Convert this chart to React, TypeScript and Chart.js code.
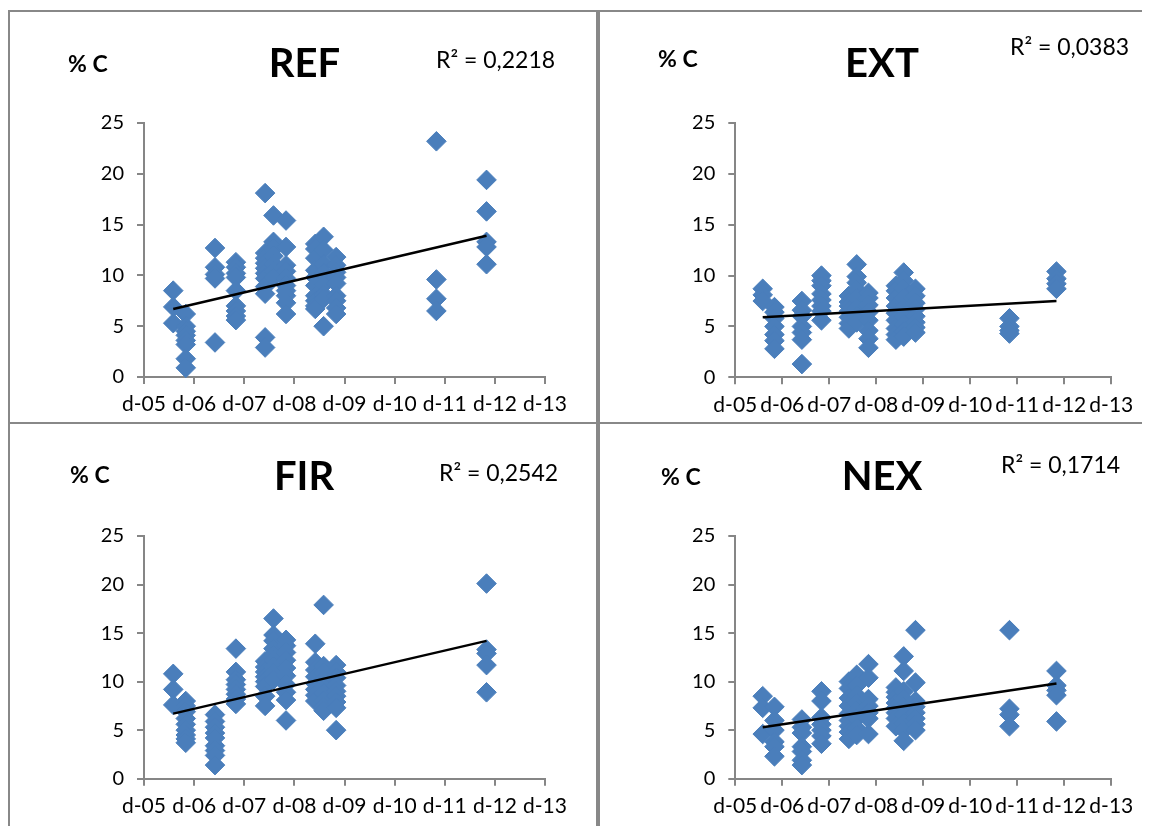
import React, { useEffect, useRef } from "react";
import { Chart, registerables } from "chart.js";

Chart.register(...registerables);

// Sampling dates, in months after December 2005
const SAMPLE_MONTHS = [7, 10, 17, 22, 29, 31, 34, 41, 43, 46, 70, 82];
const X_TICK_LABELS = ["d-05", "d-06", "d-07", "d-08", "d-09", "d-10", "d-11", "d-12", "d-13"];
const X_MIN = 0;
const X_MAX = 96;
const X_STEP = 12;
const Y_MIN = 0;
const Y_MAX = 25;
const Y_STEP = 5;

// % C values per sampling date (same order as SAMPLE_MONTHS)
const REF_C = [
  [8.5, 6.9, 5.3],
  [6.2, 5.0, 4.5, 4.1, 3.6, 3.2, 1.8, 0.9],
  [12.7, 10.8, 10.1, 9.7, 3.4],
  [11.3, 10.8, 10.2, 9.8, 8.5, 7.0, 6.5, 6.0, 5.6],
  [18.1, 12.2, 11.7, 11.2, 10.7, 10.2, 9.7, 8.9, 8.2, 3.9, 2.9],
  [15.9, 13.3, 12.6, 11.9, 11.1, 10.4, 9.8],
  [15.4, 12.8, 11.0, 10.4, 9.7, 9.0, 8.5, 8.0, 7.3, 6.2],
  [13.1, 12.6, 11.7, 10.5, 9.8, 9.0, 8.0, 7.5, 7.0, 6.7],
  [13.8, 12.5, 11.1, 10.2, 9.1, 8.1, 7.7, 5.0],
  [11.8, 11.0, 10.3, 9.8, 9.2, 8.0, 7.5, 6.8, 6.2],
  [23.2, 9.6, 7.7, 6.5],
  [19.4, 16.3, 13.3, 12.8, 11.1],
];
const EXT_C = [
  [8.7, 8.1, 7.5],
  [6.9, 6.4, 5.8, 5.0, 4.2, 3.6, 2.8],
  [7.5, 6.6, 6.0, 5.0, 4.4, 3.7, 1.3],
  [10.0, 9.5, 9.0, 8.2, 7.6, 7.0, 6.5, 5.6],
  [8.0, 7.4, 7.0, 6.5, 5.9, 5.3, 4.8],
  [11.1, 9.9, 9.3, 8.6, 7.8, 6.8, 6.0, 5.4],
  [8.3, 7.8, 7.1, 6.4, 5.6, 4.6, 3.8, 2.9],
  [9.0, 8.5, 7.8, 7.0, 6.3, 5.6, 4.8, 4.2, 3.7],
  [10.3, 9.5, 8.7, 7.8, 6.8, 6.0, 5.2, 4.5, 4.0],
  [8.7, 8.0, 7.3, 6.7, 6.0, 5.4, 4.9, 4.4],
  [5.8, 5.0, 4.6, 4.3],
  [10.4, 9.7, 9.2, 8.7],
];
const FIR_C = [
  [10.8, 9.2, 7.6],
  [8.0, 7.5, 6.9, 6.2, 5.6, 5.0, 4.5, 4.1, 3.7],
  [6.6, 5.9, 5.3, 4.7, 4.2, 3.4, 2.9, 2.4, 1.4],
  [13.4, 11.0, 10.2, 9.7, 9.2, 8.7, 8.2, 7.7],
  [12.1, 11.5, 11.0, 10.5, 10.0, 9.5, 8.5, 7.5],
  [16.5, 14.8, 14.2, 13.4, 12.8, 12.2, 11.5, 10.9, 10.2],
  [14.3, 13.7, 13.0, 12.2, 11.4, 10.6, 9.7, 8.9, 8.1, 6.0],
  [13.9, 12.0, 11.2, 10.5, 9.8, 9.2, 8.6, 8.0],
  [17.9, 11.6, 10.9, 10.2, 9.5, 8.8, 8.0, 7.4, 7.0],
  [11.7, 11.0, 10.4, 9.6, 9.0, 8.5, 7.9, 7.3, 5.0],
  [],
  [20.1, 13.3, 12.9, 11.7, 8.9],
];
const NEX_C = [
  [8.5, 7.3, 4.6],
  [7.4, 6.0, 5.0, 3.8, 3.3, 2.3],
  [6.1, 5.3, 4.7, 3.3, 2.8, 1.9, 1.4],
  [9.0, 8.0, 6.3, 5.6, 5.0, 4.4, 3.6],
  [10.0, 9.3, 8.3, 7.5, 6.7, 6.0, 5.4, 4.8, 4.1],
  [10.7, 9.6, 8.6, 7.8, 7.0, 6.2, 5.2, 4.5],
  [11.8, 10.4, 8.2, 7.5, 6.8, 6.2, 4.6],
  [9.4, 8.9, 8.4, 7.8, 7.3, 6.8, 6.2, 5.4],
  [12.6, 11.1, 9.0, 8.2, 7.4, 6.6, 5.7, 5.0, 3.9],
  [15.3, 9.9, 8.0, 7.4, 6.8, 6.2, 5.6, 5.0],
  [15.3, 7.2, 6.6, 5.4],
  [11.1, 9.6, 9.1, 8.6, 5.9],
];

// Linear trendline values at first and last sampling date
const REF_TREND = [6.7, 13.9];
const EXT_TREND = [5.9, 7.5];
const FIR_TREND = [6.7, 14.2];
const NEX_TREND = [5.3, 9.8];

const R2_LABELS = ["0,2218", "0,0383", "0,2542", "0,1714"];
const PANEL_NAMES = ["REF", "EXT", "FIR", "NEX"];
const Y_AXIS_LABEL = "% C";

const FONT = 'Lato, "Open Sans", sans-serif';
const MARKER = "#4a7ebb";
const AXIS = "#868686";

type Layout = {
  box: { left: number; top: number; width: number; height: number };
  area: { l: number; t: number; r: number; b: number };
  title: { x: number; y: number };
  unit: { x: number; y: number };
  r2: { x: number; y: number };
};

const LAYOUTS: Layout[] = [
  {
    box: { left: 0, top: 2, width: 590, height: 414 },
    area: { l: 134, t: 111, r: 535, b: 365 },
    title: { x: 294.5, y: 64.7 },
    unit: { x: 58, y: 60 },
    r2: { x: 426, y: 56 },
  },
  {
    box: { left: 590, top: 2, width: 570, height: 414 },
    area: { l: 135.3, t: 111, r: 511.3, b: 365.3 },
    title: { x: 282, y: 65 },
    unit: { x: 58, y: 55 },
    r2: { x: 410, y: 43 },
  },
  {
    box: { left: 0, top: 414, width: 590, height: 430 },
    area: { l: 134, t: 112, r: 535, b: 354.7 },
    title: { x: 294, y: 66 },
    unit: { x: 60, y: 59 },
    r2: { x: 429, y: 56.7 },
  },
  {
    box: { left: 590, top: 414, width: 570, height: 430 },
    area: { l: 135.3, t: 112, r: 511.3, b: 354.7 },
    title: { x: 282, y: 66 },
    unit: { x: 61, y: 61 },
    r2: { x: 401, y: 49 },
  },
];

const VALUES = [REF_C, EXT_C, FIR_C, NEX_C];
const TRENDS = [REF_TREND, EXT_TREND, FIR_TREND, NEX_TREND];

function Panel({ index }: { index: number }) {
  const ref = useRef<HTMLCanvasElement | null>(null);
  const lay = LAYOUTS[index];
  const W = lay.box.width - 4;
  const H = lay.box.height - 4;

  useEffect(() => {
    if (!ref.current) return;
    const values = VALUES[index];
    const points: { x: number; y: number }[] = [];
    values.forEach((col, i) => col.forEach((v) => points.push({ x: SAMPLE_MONTHS[i], y: v })));
    const trend = TRENDS[index];
    const trendPts = [
      { x: SAMPLE_MONTHS[0], y: trend[0] },
      { x: SAMPLE_MONTHS[SAMPLE_MONTHS.length - 1], y: trend[1] },
    ];

    const textPlugin = {
      id: "panelText",
      afterDraw(chart: any) {
        const ctx = chart.ctx;
        ctx.save();
        ctx.fillStyle = "#000";
        ctx.textBaseline = "alphabetic";
        ctx.textAlign = "center";
        ctx.font = `bold 40px ${FONT}`;
        ctx.fillText(PANEL_NAMES[index], lay.title.x, lay.title.y);
        ctx.textAlign = "left";
        ctx.font = `bold 23px ${FONT}`;
        ctx.fillText(Y_AXIS_LABEL, lay.unit.x, lay.unit.y);
        ctx.font = `23px ${FONT}`;
        ctx.fillText(`R² = ${R2_LABELS[index]}`, lay.r2.x, lay.r2.y);
        ctx.restore();
      },
    };

    const chart = new Chart(ref.current, {
      type: "scatter",
      data: {
        datasets: [
          {
            type: "line",
            data: trendPts,
            borderColor: "#000",
            borderWidth: 2.5,
            pointRadius: 0,
            fill: false,
            clip: false,
          } as any,
          {
            data: points,
            pointStyle: "rectRot",
            pointRadius: 9.8,
            pointBackgroundColor: MARKER,
            pointBorderColor: MARKER,
            pointBorderWidth: 1,
            clip: false,
          } as any,
        ],
      },
      options: {
        responsive: false,
        animation: false,
        events: [],
        layout: {
          padding: { left: 0, top: lay.area.t, right: W - lay.area.r, bottom: 0 },
        },
        plugins: {
          legend: { display: false },
          tooltip: { enabled: false },
          title: { display: false },
        },
        scales: {
          x: {
            type: "linear",
            min: X_MIN,
            max: X_MAX,
            afterFit: (s: any) => {
              s.height = H - lay.area.b;
            },
            ticks: {
              stepSize: X_STEP,
              autoSkip: false,
              maxRotation: 0,
              minRotation: 0,
              padding: 8,
              color: "#000",
              font: { family: FONT, size: 21 },
              callback: (v: any) => X_TICK_LABELS[Math.round((Number(v) - X_MIN) / X_STEP)] ?? "",
            },
            grid: {
              display: true,
              drawOnChartArea: false,
              drawTicks: true,
              tickLength: 7,
              color: AXIS,
              lineWidth: 2,
            },
            border: { display: true, color: AXIS, width: 2 },
          },
          y: {
            type: "linear",
            min: Y_MIN,
            max: Y_MAX,
            afterFit: (s: any) => {
              s.width = lay.area.l;
            },
            ticks: {
              stepSize: Y_STEP,
              padding: 13,
              color: "#000",
              font: { family: FONT, size: 20 },
            },
            grid: {
              display: true,
              drawOnChartArea: false,
              drawTicks: true,
              tickLength: 7,
              color: AXIS,
              lineWidth: 2,
            },
            border: { display: true, color: AXIS, width: 2 },
          },
        },
      } as any,
      plugins: [textPlugin],
    });
    return () => chart.destroy();
  }, [index]);

  return (
    <div
      style={{
        position: "absolute",
        left: lay.box.left,
        top: lay.box.top,
        width: lay.box.width,
        height: lay.box.height,
        border: "2px solid #888888",
        boxSizing: "border-box",
        background: "#fff",
      }}
    >
      <canvas ref={ref} width={W} height={H} style={{ display: "block", width: W, height: H }} />
    </div>
  );
}

export default function App() {
  return (
    <div
      style={{
        position: "relative",
        width: 1142,
        height: 826,
        marginBottom: -8,
        overflow: "hidden",
        background: "#fff",
      }}
    >
      {[0, 2, 1, 3].map((i) => (
        <Panel key={i} index={i} />
      ))}
    </div>
  );
}
